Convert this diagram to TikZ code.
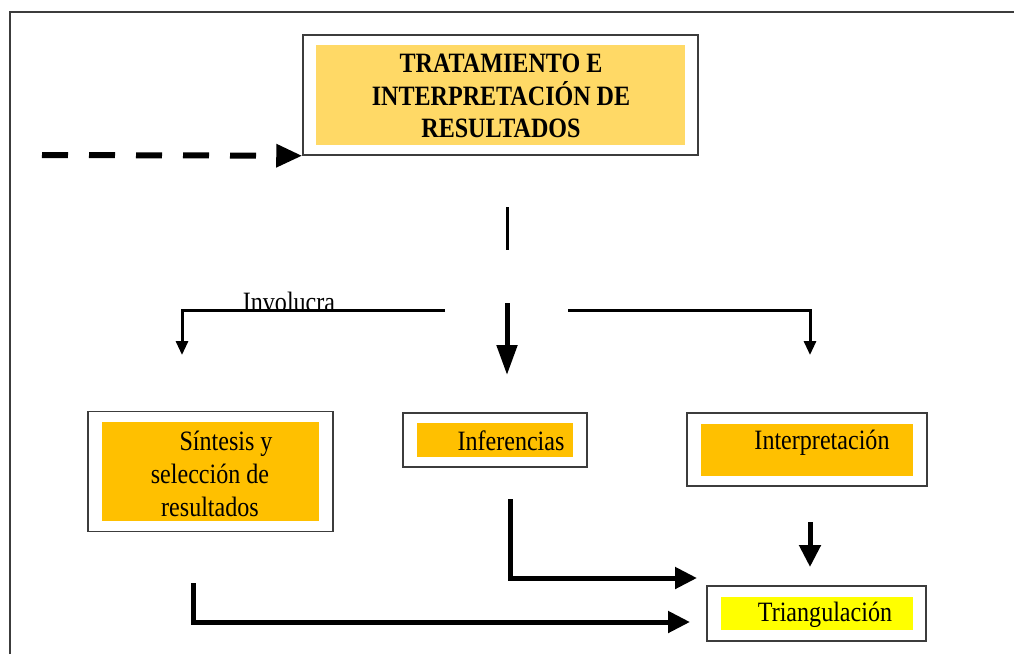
\documentclass[tikz,border=0pt]{standalone}
\usepackage{fontspec}
\setmainfont{Liberation Serif}[FakeStretch=0.86]
\usepackage{tikz}
\usetikzlibrary{arrows.meta}
\definecolor{titlegold}{RGB}{255,217,102}
\definecolor{boxorange}{RGB}{255,192,0}
\definecolor{boxyellow}{RGB}{255,255,0}
\definecolor{framegray}{RGB}{60,60,60}

\begin{document}
\begin{tikzpicture}[x=1pt,y=-1pt,
    frame/.style={draw=framegray,line width=1.5pt,inner sep=0pt},
    tint/.style={fill=#1,inner sep=0pt},
    txt/.style={font=\fontsize{28}{33}\selectfont,inner sep=0pt,align=center},
    thin link/.style={line width=3pt,-{Triangle[length=14pt,width=12pt]}},
    thick link/.style={line width=5pt,-{Triangle[length=22pt,width=21pt]}}]
          \useasboundingbox (0,0) rectangle (1014,654);
          \draw[framegray,line width=2pt] (10,654) -- (10,12) -- (1014,12);

          % title box
          \node[frame,minimum width=395,minimum height=120] (trat) at (500.5,95) {};
          \node[tint=titlegold,minimum width=369,minimum height=100] at (trat) {};
          \node[txt,font=\fontsize{28}{32.5}\selectfont\bfseries] (tratT) at (501,96) {TRATAMIENTO E\\INTERPRETACIÓN DE\\RESULTADOS};

          % lower boxes
          \node[frame,minimum width=245,minimum height=120] (sint) at (210.5,471.5) {};
          \node[tint=boxorange,minimum width=217,minimum height=99] at (sint) {};
          \node[txt] (sintT) at (210,474) {\hspace*{32pt}Síntesis y\\selección de\\resultados};

          \node[frame,minimum width=184,minimum height=54] (infer) at (495,440) {};
          \node[tint=boxorange,minimum width=156,minimum height=34] at (infer) {};
          \node[txt] (inferT) at (511,441) {Inferencias};

          \node[frame,minimum width=240,minimum height=73] (interp) at (807,449.5) {};
          \node[tint=boxorange,minimum width=212,minimum height=52] at (interp) {};
          \node[txt] (interpT) at (822,443) {Interpretación};

          \node[frame,minimum width=219,minimum height=55] (triang) at (816.5,613.5) {};
          \node[tint=boxyellow,minimum width=192,minimum height=33] at (triang) {};
          \node[txt] (triangT) at (825,615) {Triangulación};

          % connector ends
          \coordinate (dashIn) at (42,155);
          \coordinate (stemA) at (507,207);
          \coordinate (stemB) at (507,250);
          \coordinate (brL) at (445,310);
          \coordinate (toSint) at (182,355);
          \coordinate (midA) at (507,303);
          \coordinate (toInfer) at (507,375);
          \coordinate (brR) at (568,310);
          \coordinate (toInterp) at (810,355);
          \coordinate (sintOut) at (193,583);
          \coordinate (inTriA) at (690,622);
          \coordinate (inferOut) at (510,499);
          \coordinate (inTriB) at (697,578);
          \coordinate (interpOut) at (810,522);
          \coordinate (inTriC) at (810,567);

          \draw[line width=6pt,dash pattern=on 26pt off 21pt,-{Triangle[length=26pt,width=22pt]}] (dashIn) -- (trat.south west);
          \draw[line width=3pt] (stemA) -- (stemB);
          \draw[thin link] (brL) -| (toSint);
          \draw[thin link] (brR) -| (toInterp);
          \draw[line width=5pt,-{Triangle[length=30pt,width=20pt]}] (midA) -- (toInfer);
          \node[txt,anchor=base] (invol) at (289,311) {Involucra};

          \draw[thick link] (sintOut) |- (inTriA);
          \draw[thick link] (inferOut) |- (inTriB);
          \draw[thick link] (interpOut) -- (inTriC);
        \end{tikzpicture}
\end{document}
